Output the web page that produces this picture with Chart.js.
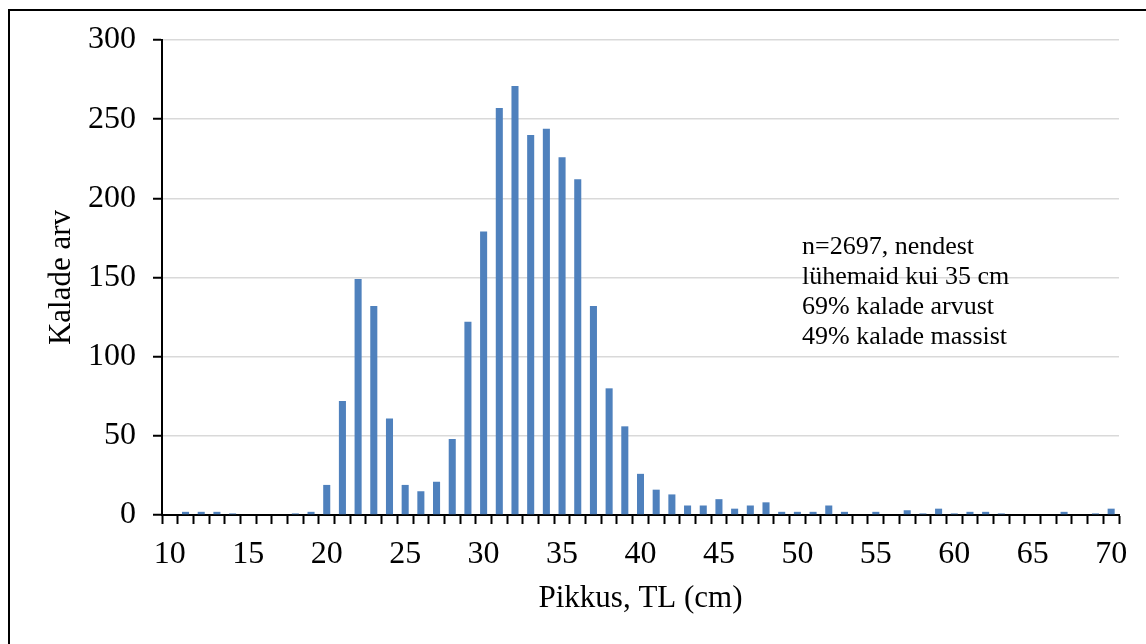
<!DOCTYPE html>
<html>
<head>
<meta charset="utf-8">
<script src="https://cdn.jsdelivr.net/npm/chart.js@4"></script>
<style>
  html, body { margin: 0; padding: 0; background: #fff; overflow: hidden; }
  #wrap { position: relative; width: 1146px; height: 644px; }
  #frame { position: absolute; left: 8px; top: 9px; width: 1200px; height: 700px;
           border-left: 2px solid #000; border-top: 2px solid #000; pointer-events: none; }
  canvas { position: absolute; left: 0; top: 0; }
</style>
</head>
<body>
<div id="wrap">
  <canvas id="c" width="1146" height="644"></canvas>
  <div id="frame"></div>
</div>
<script>
// Length classes (cm)
const lengths = ['10','11','12','13','14','15','16','17','18','19',
                 '20','21','22','23','24','25','26','27','28','29',
                 '30','31','32','33','34','35','36','37','38','39',
                 '40','41','42','43','44','45','46','47','48','49',
                 '50','51','52','53','54','55','56','57','58','59',
                 '60','61','62','63','64','65','66','67','68','69','70'];
// Number of fish per length class
const fishCounts = [0,2,2,2,1,0,0,0,1,2,
                    19,72,149,132,61,19,15,21,48,122,
                    179,257,271,240,244,226,212,132,80,56,
                    26,16,13,6,6,10,4,6,8,2,
                    2,2,6,2,0,2,0,3,1,4,
                    1,2,2,1,0,0,0,2,0,1,4];
const xTickLabels = ['10','15','20','25','30','35','40','45','50','55','60','65','70'];
const yTicks = [0,50,100,150,200,250,300];
const noteLines = ['n=2697, nendest','lühemaid kui 35 cm','69% kalade arvust','49% kalade massist'];

const FONT = "'Liberation Serif', 'Times New Roman', serif";

const notePlugin = {
  id: 'note',
  afterDraw(chart) {
    const ctx = chart.ctx;
    ctx.save();
    ctx.fillStyle = '#000';
    ctx.font = "26px " + FONT;
    ctx.textAlign = 'left';
    ctx.textBaseline = 'alphabetic';
    noteLines.forEach((t, i) => ctx.fillText(t, 802, 254 + i * 30));
    ctx.restore();
  }
};

new Chart(document.getElementById('c'), {
  type: 'bar',
  data: {
    labels: lengths,
    datasets: [{
      data: fishCounts,
      backgroundColor: '#4f81bd',
      borderWidth: 0,
      barPercentage: 0.45,
      categoryPercentage: 1.0
    }]
  },
  options: {
    responsive: false,
    animation: false,
    devicePixelRatio: 1,
    layout: { padding: { top: 40, right: 27, left: 0, bottom: 0 } },
    plugins: { legend: { display: false }, tooltip: { enabled: false } },
    scales: {
      x: {
        offset: true,
        grid: { display: true, offset: true, drawOnChartArea: false, tickLength: 9,
                tickColor: '#000', tickWidth: 2 },
        border: { color: '#000', width: 2 },
        ticks: {
          autoSkip: false, maxRotation: 0, minRotation: 0, padding: 11,
          color: '#000', font: { family: FONT, size: 32 },
          callback: function(v) { const l = this.getLabelForValue(v); return xTickLabels.includes(l) ? l : ''; }
        },
        title: { display: true, text: 'Pikkus, TL (cm)', color: '#000',
                 font: { family: FONT, size: 31 }, padding: { top: 0, bottom: 27 } },
        afterFit(scale) { scale.height = 129; }
      },
      y: {
        min: 0, max: 300,
        grid: { color: '#d9d9d9', lineWidth: 1.5, tickLength: 9, tickColor: '#000', tickWidth: 2 },
        border: { color: '#000', width: 2 },
        afterBuildTicks(scale) { scale.ticks = yTicks.map(v => ({ value: v })); },
        ticks: { padding: 17, color: '#000', font: { family: FONT, size: 32 } },
        title: { display: true, text: 'Kalade arv', color: '#000',
                 font: { family: FONT, size: 31 }, padding: { top: 43, bottom: 0 } },
        afterFit(scale) { scale.width = 162; }
      }
    }
  },
  plugins: [notePlugin]
});
</script>
</body>
</html>
